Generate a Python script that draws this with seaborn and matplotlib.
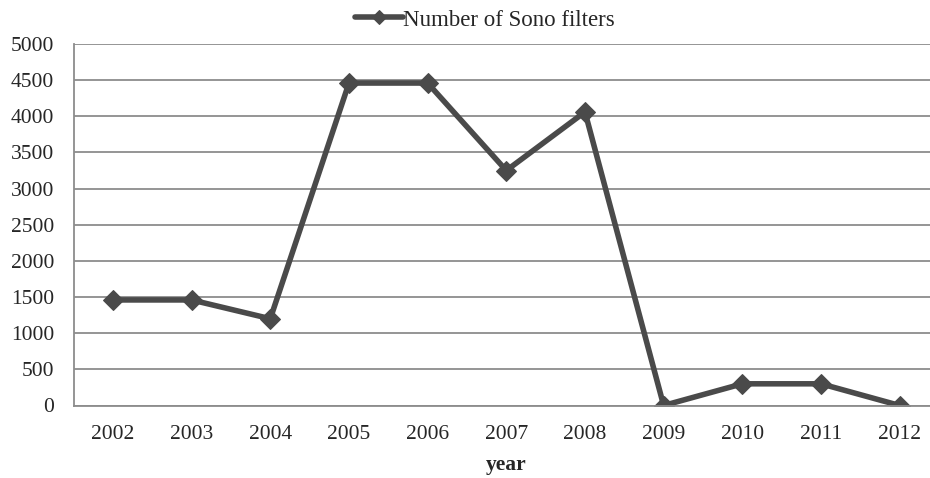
import matplotlib.pyplot as plt
import seaborn as sns
import pandas as pd

years = ["2002", "2003", "2004", "2005", "2006", "2007", "2008", "2009", "2010", "2011", "2012"]
sono_filters = [1460, 1460, 1200, 4460, 4460, 3250, 4060, 0, 300, 300, 0]
y_ticks = [0, 500, 1000, 1500, 2000, 2500, 3000, 3500, 4000, 4500, 5000]


def main():
    sns.set_style("white")
    plt.rcParams["font.family"] = ["Liberation Serif", "DejaVu Serif"]
    df = pd.DataFrame({"year": years, "filters": sono_filters})
    df["pos"] = range(len(years))

    fig = plt.figure(figsize=(9.3, 4.78), dpi=100)
    W, H = 930, 478
    left, right, top, bottom = 73.6, 939, 44, 405.5
    ax = fig.add_axes([left / W, 1 - bottom / H, (right - left) / W, (bottom - top) / H])
    sns.lineplot(data=df, x="pos", y="filters", ax=ax, color="#4a4a4a",
                 linewidth=4, marker="D", markersize=10, markeredgecolor="#4a4a4a",
                 label="Number of Sono filters")
    ax.set_xlim(-0.5, len(years) - 0.5)
    ax.set_ylim(0, 5000)
    ax.set_yticks(y_ticks)
    ax.set_yticklabels([str(v) for v in y_ticks], fontsize=15.5)
    ax.set_xticks(df["pos"])
    ax.set_xticklabels(years, fontsize=15.5)
    ax.tick_params(axis="both", length=0)
    ax.tick_params(axis="y", pad=14)
    ax.tick_params(axis="x", pad=14)
    ax.yaxis.grid(True, color="#8c8c8c", linewidth=1.3)
    ax.set_axisbelow(True)
    for s in ["top", "right"]:
        ax.spines[s].set_visible(False)
    for s in ["left", "bottom"]:
        ax.spines[s].set_color("#8c8c8c")
        ax.spines[s].set_linewidth(1.3)
    ax.set_ylabel("")
    ax.set_xlabel("year", fontsize=15.5, fontweight="bold", labelpad=8)
    # legend centred on x ~ 485 px in figure coords
    ax.legend(loc="center", bbox_to_anchor=(485 / W, 1 - 20 / H), bbox_transform=fig.transFigure,
              frameon=False, fontsize=16.5, handlelength=2.1, handletextpad=0.0,
              markerscale=0.75, borderaxespad=0, borderpad=0)
    fig.savefig("out.png", dpi=100, facecolor="white")


if __name__ == "__main__":
    main()
